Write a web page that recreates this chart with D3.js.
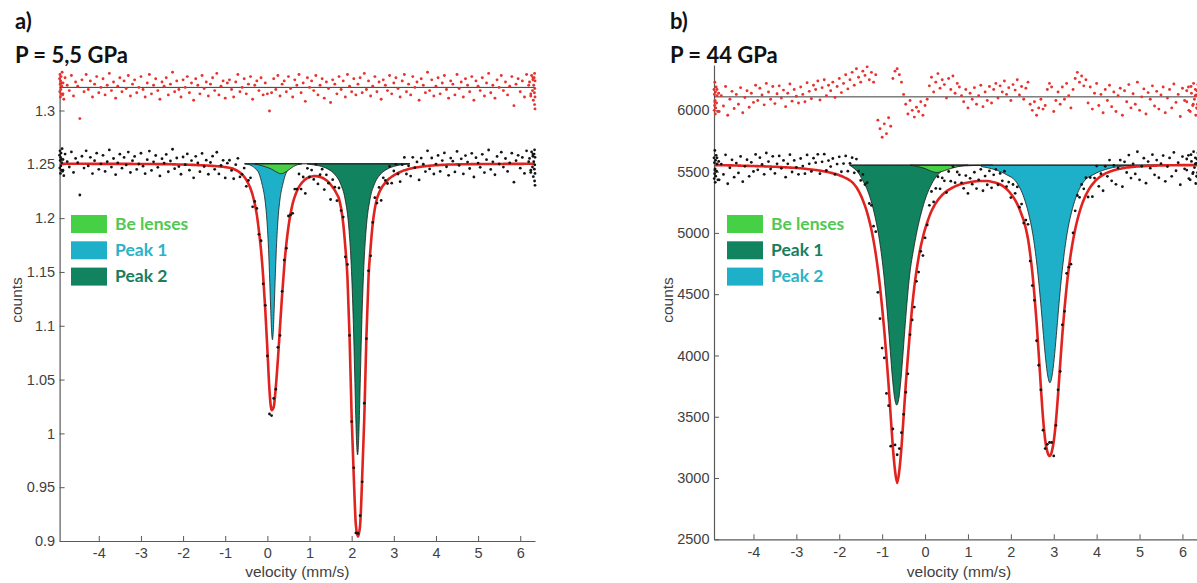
<!DOCTYPE html>
<html>
<head>
<meta charset="utf-8">
<script src="https://cdn.jsdelivr.net/npm/d3@7"></script>
<style>
  html, body { margin: 0; padding: 0; background: #fff; }
  svg { display: block; }
</style>
</head>
<body>
<svg id="chart" width="1197" height="583"></svg>
<script>
// ---------------- shared axis values ----------------
const velocityTicks = [-4, -3, -2, -1, 0, 1, 2, 3, 4, 5, 6];
const countTicksA = [0.9, 0.95, 1, 1.05, 1.1, 1.15, 1.2, 1.25, 1.3];
const countTicksB = [2500, 3000, 3500, 4000, 4500, 5000, 5500, 6000];

// channel grid of the velocity drive (mm/s)
const channelStart = -4.9;
const channelStep = 0.05;

// ---------------- panel a : P = 5,5 GPa ----------------
const baseA = 1.2505;          // off-resonance level
const residLevelA = 1.3215;    // level of the residual trace
const fitA = [
  1.2505,1.2505,1.2505,1.2505,1.2505,1.2505,1.2505,1.2505,1.2505,1.2505,
  1.2505,1.2505,1.2505,1.2505,1.2505,1.2504,1.2504,1.2504,1.2504,1.2504,
  1.2504,1.2504,1.2504,1.2504,1.2504,1.2504,1.2504,1.2504,1.2504,1.2504,
  1.2504,1.2504,1.2504,1.2504,1.2504,1.2503,1.2503,1.2503,1.2503,1.2503,
  1.2503,1.2503,1.2503,1.2503,1.2503,1.2502,1.2502,1.2502,1.2502,1.2502,
  1.2502,1.2501,1.2501,1.2500,1.2500,1.2499,1.2499,1.2498,1.2498,1.2497,
  1.2497,1.2496,1.2495,1.2495,1.2494,1.2493,1.2492,1.2491,1.2490,1.2489,
  1.2488,1.2487,1.2486,1.2484,1.2482,1.2481,1.2479,1.2477,1.2474,1.2471,
  1.2468,1.2463,1.2456,1.2447,1.2436,1.2423,1.2407,1.2385,1.2356,1.2320,
  1.2275,1.2215,1.2135,1.2030,1.1880,1.1700,1.1460,1.1150,1.0780,1.0400,
  1.0215,1.0245,1.0430,1.0690,1.0990,1.1290,1.1550,1.1760,1.1920,1.2040,
  1.2135,1.2200,1.2250,1.2290,1.2320,1.2342,1.2360,1.2373,1.2382,1.2387,
  1.2390,1.2390,1.2388,1.2383,1.2375,1.2365,1.2352,1.2335,1.2313,1.2287,
  1.2258,1.2222,1.2180,1.2090,1.1950,1.1730,1.1450,1.0900,1.0150,0.9600,
  0.9145,0.9040,0.9145,0.9600,1.0150,1.0900,1.1450,1.1730,1.1950,1.2090,
  1.2180,1.2235,1.2275,1.2305,1.2330,1.2352,1.2370,1.2385,1.2398,1.2410,
  1.2420,1.2429,1.2437,1.2444,1.2450,1.2456,1.2461,1.2465,1.2469,1.2472,
  1.2475,1.2478,1.2481,1.2483,1.2485,1.2487,1.2489,1.2490,1.2492,1.2493,
  1.2494,1.2495,1.2496,1.2497,1.2498,1.2498,1.2499,1.2499,1.2500,1.2500,
  1.2501,1.2501,1.2501,1.2501,1.2501,1.2502,1.2502,1.2502,1.2502,1.2502,
  1.2503,1.2503,1.2503,1.2503,1.2503,1.2503,1.2503,1.2503,1.2503,1.2503,
  1.2504,1.2504,1.2504,1.2504,1.2504,1.2504,1.2504,1.2504,1.2504,1.2504,
  1.2505,1.2505,1.2505,1.2505,1.2505,1.2505
];
// measured minus fit, in units of 0.001
const residA = [
  4,-6,9,2,-3,11,-8,5,1,-29,7,-4,12,-2,6,-9,3,10,-5,0,
  8,-7,2,13,-3,5,-10,1,9,-4,6,-1,11,-8,3,7,-5,0,10,-2,
  -9,4,12,-6,2,8,-3,-11,5,1,9,-7,3,14,-4,6,-2,-9,7,0,
  10,-5,4,-12,8,2,-6,11,-1,5,-8,3,9,-3,13,-7,1,6,-10,4,
  7,-2,-9,5,12,-4,0,8,-6,3,10,-11,2,6,-3,9,-7,4,-6,-22,
  -5,8,-2,11,-8,3,6,-4,10,-1,-9,7,2,12,-5,4,-13,9,0,6,
  -3,11,-7,2,8,-10,5,-1,-14,7,3,-6,10,-2,6,-9,12,1,-4,8,
  -7,3,9,-5,13,-2,6,-8,1,10,-4,5,-11,7,2,-3,11,-6,4,9,
  -1,-9,6,12,-4,3,-7,10,0,5,-12,8,2,-5,14,-3,7,-8,1,9,
  -6,4,11,-2,-10,6,3,-7,12,-1,5,-9,8,2,-4,10,-12,6,1,-3,
  9,-8,4,13,-5,2,-10,7,0,11,-3,5,-7,1,10,-17,3,8,-4,6,
  -9,12,2,-6,9,-20
];
// channels bunched at the turning points of the drive
const edgeVelA = [-4.93,-4.925,-4.92,-4.915,-4.91,-4.905,-4.9,-4.895,-4.89,-4.88,-4.87,-4.86,-4.85,-4.83,
                  6.22,6.25,6.27,6.29,6.3,6.31,6.32,6.33,6.335,6.34,6.345,6.35,6.35,6.34];
const edgeResidA = [8,-4,12,3,-9,6,-2,10,-6,1,14,-7,4,-11,
                    5,-8,11,-3,7,-12,2,9,-5,13,-1,-9,6,-16];
// sub-spectra
const beVelA = [-0.3,-0.2,-0.05,0.1,0.2,0.32,0.42,0.52,0.62,0.72,0.82];
const beValA = [1.2503,1.2495,1.2478,1.2455,1.2432,1.2412,1.2425,1.2452,1.2480,1.2497,1.2504];
const peak1VelA = [-0.54,-0.42,-0.3,-0.2,-0.12,-0.06,-0.02,0.02,0.05,0.08,0.1,0.12,
                   0.14,0.16,0.19,0.22,0.26,0.3,0.36,0.44,0.54,0.66,0.78];
const peak1ValA = [1.2504,1.2495,1.2465,1.2415,1.2305,1.2178,1.2027,1.1773,1.1486,1.1140,1.0947,1.0870,
                   1.0947,1.1140,1.1486,1.1773,1.2027,1.2178,1.2305,1.2415,1.2465,1.2495,1.2504];
const peak2VelA = [0.94,1.04,1.24,1.44,1.59,1.74,1.84,1.94,1.99,2.04,2.07,2.1,2.12,2.14,
                   2.16,2.18,2.21,2.24,2.29,2.34,2.44,2.54,2.69,2.84,3.04,3.24,3.38];
const peak2ValA = [1.2504,1.2498,1.2485,1.2455,1.2410,1.2315,1.2185,1.1877,1.1559,1.1024,1.0580,1.0115,0.9887,0.9800,
                   0.9887,1.0115,1.0580,1.1024,1.1559,1.1877,1.2185,1.2315,1.2410,1.2455,1.2485,1.2498,1.2504];

// ---------------- panel b : P = 44 GPa ----------------
const baseB = 5553;
const residLevelB = 6110;
const fitB = [
  5553,5553,5553,5552,5552,5552,5551,5551,5551,5550,
  5550,5549,5549,5548,5548,5547,5547,5546,5546,5545,
  5545,5544,5544,5543,5542,5542,5541,5540,5540,5539,
  5538,5537,5536,5535,5534,5533,5532,5531,5530,5528,
  5527,5525,5523,5521,5519,5517,5515,5513,5511,5508,
  5505,5502,5499,5495,5491,5487,5482,5477,5471,5464,
  5456,5448,5439,5428,5414,5395,5372,5343,5308,5267,
  5220,5165,5100,5025,4935,4830,4705,4560,4390,4200,
  3990,3760,3500,3250,3060,2960,3060,3250,3500,3760,
  3990,4200,4400,4560,4690,4800,4890,4965,5030,5085,
  5135,5178,5213,5243,5268,5290,5309,5325,5339,5351,
  5362,5371,5380,5387,5394,5399,5404,5408,5412,5415,
  5418,5420,5422,5423,5424,5424,5424,5423,5421,5418,
  5414,5409,5403,5395,5385,5373,5358,5340,5318,5295,
  5268,5235,5195,5150,5100,5035,4950,4830,4680,4490,
  4270,4010,3740,3490,3310,3215,3180,3210,3300,3460,
  3680,3930,4170,4380,4560,4710,4835,4940,5030,5105,
  5170,5225,5270,5310,5343,5372,5396,5417,5435,5450,
  5463,5474,5484,5492,5499,5505,5511,5516,5520,5524,
  5527,5530,5533,5535,5537,5539,5541,5542,5543,5544,
  5545,5546,5547,5548,5548,5549,5549,5550,5550,5551,
  5551,5551,5552,5552,5552,5552,5553,5553,5553,5553,
  5553,5553,5553,5553,5553,5553,5553
];
// measured minus fit, in counts
const residB = [
  -40,60,-120,10,-75,85,-150,-20,45,-95,20,-60,75,-130,-5,50,-85,30,-45,95,
  -30,70,15,-65,110,40,-20,85,-55,25,90,-10,55,-80,30,105,-35,60,5,-50,
  80,20,-40,115,45,-15,95,60,130,-25,75,140,10,95,50,120,-5,85,150,35,
  110,180,65,140,200,95,230,160,120,210,
  175,245,140,200,120,180,
  -190,-260,-330,-220,-300,-170,-240,
  150,210,230,180,120,20,
  -60,-140,-30,-110,-165,-85,-120,-40,-150,-70,-20,
  90,160,40,120,190,70,140,100,-10,150,60,170,30,110,80,10,
  -40,60,-90,30,-20,75,-60,10,95,-80,40,-30,85,-50,
  60,110,-10,90,40,130,20,75,-30,100,55,140,15,85,-20,70,120,
  -60,-110,-40,-150,-90,-20,-100,-70,60,110,80,-120,-30,
  40,-60,80,-20,110,10,-90,60,150,
  200,120,170,90,140,
  -50,80,-100,30,110,-70,20,-130,60,-30,
  95,-80,40,-120,10,70,-150,50,-40,100,
  -90,25,-60,120,-110,0,65,-140,35,-20,
  90,-75,45,-100,15,80,-130,-10,60,-90,
  105,-45,20,-160,70,-30,50,-110,85,-60,
  10,-95,40
];
const edgeVelB = [-4.92,-4.915,-4.91,-4.905,-4.9,-4.895,-4.89,-4.885,-4.88,-4.87,-4.86,-4.85,-4.83,-4.81,
                  6.1,6.14,6.18,6.21,6.24,6.26,6.28,6.3,6.31,6.32,6.33,6.34,6.35,6.36];
const edgeResidB = [60,-110,20,-70,120,-30,-140,40,-90,80,-50,10,-120,30,
                    -40,80,-120,30,-70,110,-20,60,-150,15,-90,50,-60,100];
const beVelB = [-0.35,-0.15,0.0,0.1,0.2,0.27,0.35,0.45,0.6,0.75,0.9,1.0];
const beValB = [5553,5540,5525,5510,5497,5493,5497,5508,5525,5540,5550,5553];
const peak1VelB = [-1.76,-1.66,-1.56,-1.46,-1.36,-1.26,-1.16,-1.06,-0.96,-0.86,-0.81,-0.76,-0.71,-0.66,
                   -0.61,-0.56,-0.51,-0.46,-0.36,-0.26,-0.16,-0.06,0.04,0.14,0.24,0.34,0.64,0.94,1.3,1.58];
const peak1ValB = [5553,5528,5493,5433,5363,5263,5123,4933,4653,4263,4033,3813,3653,3595,
                   3653,3813,4033,4263,4653,4880,5060,5200,5310,5390,5450,5490,5535,5547,5551,5552];
const peak2VelB = [1.31,1.61,1.91,2.11,2.31,2.41,2.51,2.61,2.71,2.76,2.81,2.86,2.91,
                   2.96,3.01,3.06,3.11,3.21,3.31,3.41,3.51,3.71,3.91,4.21,4.51,4.91,6.5];
const peak2ValB = [5541,5518,5473,5423,5283,5163,4993,4733,4373,4163,3973,3833,3777,
                   3833,3973,4163,4373,4733,4993,5163,5283,5423,5473,5518,5541,5550,5553];

// ---------------- styling ----------------
const colBe = "#45d045", colCyan = "#1eb0c9", colDark = "#11835f";
const txtBe = "#52c852", txtCyan = "#2bb2c7", txtDark = "#1a7d5d";
const fitRed = "#e1231f", residRed = "#e8322e";
const axisFont = "'Liberation Sans', Arial, Helvetica, sans-serif";
const titleFont = "Lato, 'Open Sans', 'Noto Sans', sans-serif";

const svg = d3.select("#chart");
svg.append("rect").attr("width", 1197).attr("height", 583).attr("fill", "#fff");

function drawPanel(p) {
  const x = d3.scaleLinear().domain(p.xDomain).range(p.xRange);
  const y = d3.scaleLinear().domain(p.yDomain).range(p.yRange);
  const g = svg.append("g");

  // sub-spectra, hanging from the off-resonance level
  const area = d3.area()
    .x(d => x(d[0])).y0(y(p.base)).y1(d => y(d[1]))
    .curve(d3.curveMonotoneX);
  p.components.forEach(c => {
    g.append("path").datum(d3.zip(c.vel, c.val))
      .attr("d", area).attr("fill", c.color)
      .attr("stroke", "#1c1c1c").attr("stroke-width", 0.8).attr("stroke-linejoin", "round");
  });
  const allVel = p.components.flatMap(c => c.vel);
  g.append("line")
    .attr("x1", x(d3.min(allVel))).attr("x2", Math.min(x(d3.max(allVel)), 1197))
    .attr("y1", y(p.base)).attr("y2", y(p.base))
    .attr("stroke", "#1c1c1c").attr("stroke-width", 1);

  // axes
  const gx = g.append("g").attr("transform", `translate(0,${p.yRange[0]})`)
    .call(d3.axisBottom(x).tickValues(velocityTicks).tickFormat(d => String(d))
      .tickSize(-5).tickSizeOuter(0).tickPadding(7));
  const gy = g.append("g").attr("transform", `translate(${p.xRange[0]},0)`)
    .call(d3.axisLeft(y).tickValues(p.yTicks).tickFormat(d => String(d))
      .tickSize(-5).tickSizeOuter(0).tickPadding(4.5));
  [gx, gy].forEach(a => {
    a.attr("font-family", axisFont).attr("font-size", 14.5);
    a.select(".domain").attr("stroke", "#5a5a5a").attr("stroke-width", 1.2);
    a.selectAll(".tick line").attr("stroke", "#5a5a5a");
    a.selectAll(".tick text").attr("fill", "#3f3f3f");
  });
  g.append("text")
    .attr("x", (p.xRange[0] + p.xRange[1]) / 2).attr("y", 577)
    .attr("text-anchor", "middle").attr("font-family", axisFont).attr("font-size", 15.5)
    .attr("fill", "#3f3f3f").text("velocity (mm/s)");
  g.append("text")
    .attr("transform", `translate(${p.countsX},300) rotate(-90)`)
    .attr("text-anchor", "middle").attr("font-family", axisFont).attr("font-size", 15.5)
    .attr("fill", "#3f3f3f").text("counts");

  // measured channels
  const grid = p.fit.map((f, i) => ({ v: channelStart + i * channelStep, fit: f, res: p.resid[i] * p.residUnit }));
  const edges = p.edgeVel.map((v, i) => {
    const k = Math.max(0, Math.min(p.fit.length - 1, Math.round((v - channelStart) / channelStep)));
    return { v: v, fit: p.fit[k], res: p.edgeResid[i] * p.residUnit };
  });
  const pts = grid.concat(edges);

  // residual trace
  g.append("line")
    .attr("x1", p.xRange[0]).attr("x2", Math.min(p.xRange[1], 1197))
    .attr("y1", y(p.residLevel)).attr("y2", y(p.residLevel))
    .attr("stroke", "#3a3a3a").attr("stroke-width", 1);
  g.append("g").selectAll("circle").data(pts).join("circle")
    .attr("cx", d => x(d.v)).attr("cy", d => y(p.residLevel + d.res))
    .attr("r", 1.45).attr("fill", residRed);

  // fitted envelope
  g.append("path").datum(grid)
    .attr("d", d3.line().x(d => x(d.v)).y(d => y(d.fit)).curve(d3.curveMonotoneX))
    .attr("fill", "none").attr("stroke", fitRed).attr("stroke-width", 2.6);

  // measured counts
  g.append("g").selectAll("circle").data(pts).join("circle")
    .attr("cx", d => x(d.v)).attr("cy", d => y(d.fit + d.res))
    .attr("r", 1.4).attr("fill", "#141414");

  // legend
  p.legend.forEach((l, i) => {
    const top = 215 + i * 26.3;
    g.append("rect").attr("x", p.legendX).attr("y", top).attr("width", 36).attr("height", 18).attr("fill", l.color);
    g.append("text").attr("x", p.legendX + 44).attr("y", top + 14.5)
      .attr("font-family", titleFont).attr("font-weight", 700).attr("font-size", 17.5)
      .attr("fill", l.text).text(l.label);
  });

  // headings
  g.append("text").attr("x", p.titleX).attr("y", 29)
    .attr("font-family", titleFont).attr("font-weight", 700).attr("font-size", 22)
    .attr("fill", "#111").text(p.tag);
  g.append("text").attr("x", p.titleX).attr("y", 63)
    .attr("font-family", titleFont).attr("font-weight", 700).attr("font-size", 22)
    .attr("fill", "#111").text(p.title);
}

drawPanel({
  tag: "a)", title: "P = 5,5 GPa", titleX: 15,
  xDomain: [-4.93, 6.35], xRange: [59.6, 535],
  yDomain: [0.9, 1.333], yRange: [541, 75],
  yTicks: countTicksA, countsX: 22,
  base: baseA, residLevel: residLevelA, residUnit: 0.001,
  fit: fitA, resid: residA, edgeVel: edgeVelA, edgeResid: edgeResidA,
  components: [
    { vel: peak1VelA, val: peak1ValA, color: colCyan },
    { vel: peak2VelA, val: peak2ValA, color: colDark },
    { vel: beVelA, val: beValA, color: colBe }
  ],
  legendX: 71,
  legend: [
    { label: "Be lenses", color: colBe, text: txtBe },
    { label: "Peak 1", color: colCyan, text: txtCyan },
    { label: "Peak 2", color: colDark, text: txtDark }
  ]
});

drawPanel({
  tag: "b)", title: "P = 44 GPa", titleX: 670,
  xDomain: [-4.92, 6.5], xRange: [714, 1203.9],
  yDomain: [2500, 6370], yRange: [539.3, 65],
  yTicks: countTicksB, countsX: 673,
  base: baseB, residLevel: residLevelB, residUnit: 1,
  fit: fitB, resid: residB, edgeVel: edgeVelB, edgeResid: edgeResidB,
  components: [
    { vel: peak1VelB, val: peak1ValB, color: colDark },
    { vel: peak2VelB, val: peak2ValB, color: colCyan },
    { vel: beVelB, val: beValB, color: colBe }
  ],
  legendX: 727,
  legend: [
    { label: "Be lenses", color: colBe, text: txtBe },
    { label: "Peak 1", color: colDark, text: txtDark },
    { label: "Peak 2", color: colCyan, text: txtCyan }
  ]
});
</script>
</body>
</html>
